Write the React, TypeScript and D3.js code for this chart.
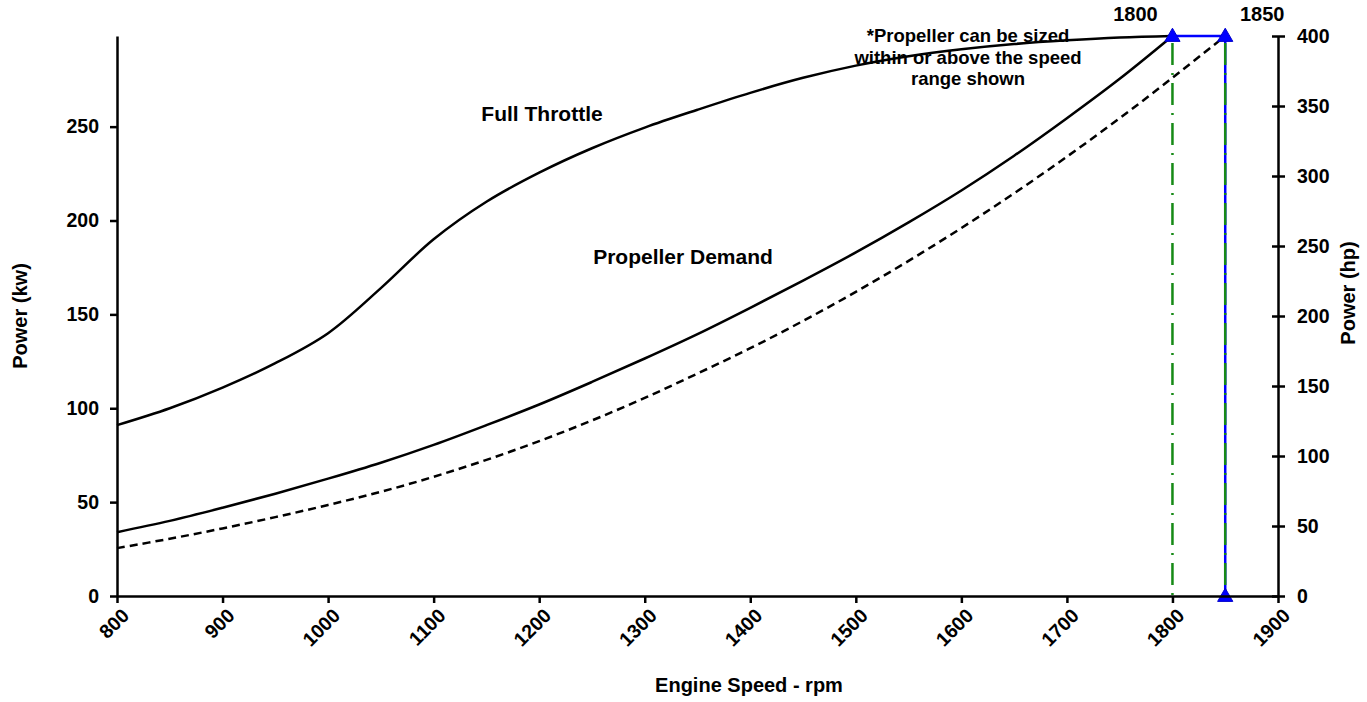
import { useRef, useEffect } from 'react';
import * as d3 from 'd3';

// engine speed (rpm) sample points
const rpm = [800, 850, 900, 950, 1000, 1050, 1100, 1150, 1200, 1250, 1300, 1350, 1400, 1450, 1500, 1550, 1600, 1650, 1700, 1750, 1800];
// power curves in kW
const fullThrottleKw = [91, 100, 111, 124, 140, 164, 190, 210, 225.5, 238.5, 249.5, 259, 268, 276, 282.5, 287.5, 291.2, 294, 296, 297.5, 298.3];
const propDemandKw = [34, 40, 47, 54.5, 62.5, 71, 80.5, 91, 102, 114, 126.5, 139.5, 153.5, 168, 183, 199, 216, 234.5, 254.5, 275.5, 298.3];
const propAltRpm = [800, 850, 900, 950, 1000, 1050, 1100, 1150, 1200, 1250, 1300, 1350, 1400, 1450, 1500, 1550, 1600, 1650, 1700, 1750, 1800, 1850];
const propAltKw = [25.5, 30.5, 36, 42, 48.5, 55.5, 63.5, 72.5, 82.5, 93.5, 105.5, 118.5, 132, 146.5, 162, 178.5, 196, 214.5, 234, 254.5, 276, 298.3];

const kwTicks = [0, 50, 100, 150, 200, 250];
const hpTicks = [0, 50, 100, 150, 200, 250, 300, 350, 400];
const rpmTicks = [800, 900, 1000, 1100, 1200, 1300, 1400, 1500, 1600, 1700, 1800, 1900];

const ratedRpm = [1800, 1850];
const ratedHp = 400;
const KW_PER_HP = 0.7457;

const note = ['*Propeller can be sized', 'within or above the speed', 'range shown'];

const FONT = '"Liberation Sans", Arial, sans-serif';

const App = () => {
  const svgRef = useRef<SVGSVGElement>(null);

  useEffect(() => {
    if (!svgRef.current) return;
    const width = 1367;
    const height = 702;
    const m = { left: 117, right: 1278, top: 36, bottom: 596 };

    const svg = d3.select(svgRef.current)
      .attr('width', width)
      .attr('height', height)
      .style('font-family', FONT)
      .style('font-weight', 'bold');
    svg.selectAll('*').remove();

    const x = d3.scaleLinear().domain([800, 1900]).range([m.left, m.right]);
    const yHp = d3.scaleLinear().domain([0, 400]).range([m.bottom, m.top]);
    const yKw = d3.scaleLinear().domain([0, 400 * KW_PER_HP]).range([m.bottom, m.top]);

    const line = d3.line<[number, number]>()
      .x(d => x(d[0]))
      .y(d => yKw(d[1]))
      .curve(d3.curveCatmullRom.alpha(0.5));

    const full = rpm.map((r, i) => [r, fullThrottleKw[i]] as [number, number]);
    const prop = rpm.map((r, i) => [r, propDemandKw[i]] as [number, number]);
    const alt = propAltRpm.map((r, i) => [r, propAltKw[i]] as [number, number]);

    svg.append('path').attr('d', line(full)).attr('fill', 'none').attr('stroke', '#000').attr('stroke-width', 2.5);
    svg.append('path').attr('d', line(prop)).attr('fill', 'none').attr('stroke', '#000').attr('stroke-width', 2.5);
    svg.append('path').attr('d', line(alt)).attr('fill', 'none').attr('stroke', '#000').attr('stroke-width', 2.5)
      .attr('stroke-dasharray', '8 5');

    // rated speed markers
    svg.append('line')
      .attr('x1', x(ratedRpm[0])).attr('x2', x(ratedRpm[1]))
      .attr('y1', yHp(ratedHp)).attr('y2', yHp(ratedHp))
      .attr('stroke', '#0000ff').attr('stroke-width', 2.5);
    svg.append('line')
      .attr('x1', x(ratedRpm[1])).attr('x2', x(ratedRpm[1]))
      .attr('y1', yHp(ratedHp)).attr('y2', yHp(0))
      .attr('stroke', '#0000ff').attr('stroke-width', 2.5);

    ratedRpm.forEach(r => {
      svg.append('line')
        .attr('x1', x(r)).attr('x2', x(r))
        .attr('y1', yHp(ratedHp) + 7).attr('y2', yHp(0))
        .attr('stroke', '#168a16').attr('stroke-width', 2.5)
        .attr('stroke-dasharray', '22 8 2 8');
    });

    const tri = d3.symbol().type(d3.symbolTriangle).size(100);
    const markers: [number, number][] = [[ratedRpm[0], ratedHp], [ratedRpm[1], ratedHp], [ratedRpm[1], 0]];
    svg.selectAll('.marker')
      .data(markers)
      .join('path')
      .attr('transform', d => `translate(${x(d[0])},${yHp(d[1]) + 1})`)
      .attr('d', tri)
      .attr('fill', '#0000ff')
      .attr('stroke', '#0000cc')
      .attr('stroke-width', 1);

    ratedRpm.forEach((r, i) => {
      svg.append('text')
        .attr('x', x(r) + (i === 0 ? -37 : 37))
        .attr('y', 21)
        .attr('text-anchor', 'middle')
        .attr('font-size', 20)
        .text(r);
    });

    // axes
    const axisStyle = (g: any) => {
      g.select('.domain').attr('stroke-width', 2.5);
      g.selectAll('.tick line').attr('stroke-width', 2.5);
      g.selectAll('.tick text').attr('font-size', 19.5).attr('font-family', FONT).attr('font-weight', 'bold').attr('fill', '#000');
    };

    svg.append('g')
      .attr('transform', `translate(${m.left},0)`)
      .call(d3.axisLeft(yKw).tickValues(kwTicks).tickSize(7).tickSizeOuter(0).tickPadding(11))
      .call(axisStyle);

    svg.append('g')
      .attr('transform', `translate(${m.right},0)`)
      .call(d3.axisRight(yHp).tickValues(hpTicks).tickSize(7).tickSizeOuter(0).tickPadding(12))
      .call(axisStyle)
      .call(g => g.selectAll('.tick line').attr('x1', -6));

    const xAxis = svg.append('g')
      .attr('transform', `translate(0,${m.bottom})`)
      .call(d3.axisBottom(x).tickValues(rpmTicks).tickFormat(d3.format('d')).tickSize(7).tickSizeOuter(0))
      .call(axisStyle);
    xAxis.selectAll('.tick text')
      .attr('text-anchor', 'end')
      .attr('transform', 'translate(8,16) rotate(-45)')
      .attr('dy', '0.35em')
      .attr('y', 0);

    // axis titles
    svg.append('text')
      .attr('transform', `translate(27,${(m.top + m.bottom) / 2}) rotate(-90)`)
      .attr('text-anchor', 'middle')
      .attr('font-size', 20)
      .text('Power (kw)');
    svg.append('text')
      .attr('transform', `translate(1355,293) rotate(-90)`)
      .attr('text-anchor', 'middle')
      .attr('font-size', 20)
      .text('Power (hp)');
    svg.append('text')
      .attr('x', 749)
      .attr('y', 692)
      .attr('text-anchor', 'middle')
      .attr('font-size', 20)
      .text('Engine Speed - rpm');

    // curve labels
    svg.append('text').attr('x', 542).attr('y', 121).attr('text-anchor', 'middle').attr('font-size', 21).text('Full Throttle');
    svg.append('text').attr('x', 683).attr('y', 264).attr('text-anchor', 'middle').attr('font-size', 21).text('Propeller Demand');

    svg.append('g')
      .selectAll('text')
      .data(note)
      .join('text')
      .attr('x', 968)
      .attr('y', (_, i) => 42 + i * 21.5)
      .attr('text-anchor', 'middle')
      .attr('font-size', 18.5)
      .text(d => d);
  }, []);

  return <svg ref={svgRef} style={{ position: 'absolute', left: 0, top: 0, display: 'block', background: '#fff' }} />;
};

export default App;
